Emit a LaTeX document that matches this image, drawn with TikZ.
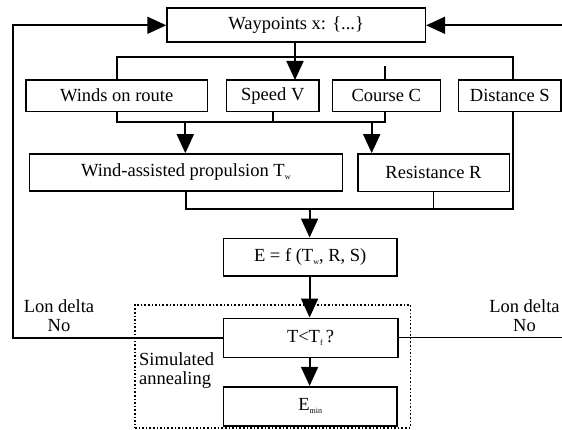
\documentclass[tikz,border=0pt]{standalone}
\usepackage{fontspec}
\setmainfont{Liberation Serif}
\usetikzlibrary{arrows.meta}
\newcommand{\sbx}[1]{\raisebox{-0.35ex}{\fontsize{8}{8}\selectfont #1}}
\begin{document}
\begin{tikzpicture}[x=1pt,y=-1pt,
  box/.style={draw, line width=1.6pt, inner sep=0pt, font=\fontsize{18.5}{22}\selectfont},
  conn/.style={line width=1.8pt},
  arr/.style={line width=1.8pt, -{Triangle[length=19pt,width=17pt]}},
  lbl/.style={font=\fontsize{18.5}{22}\selectfont, inner sep=0pt}]
\useasboundingbox (0,0) rectangle (562,430);
% boxes
\node[box, minimum width=258.3, minimum height=34] (wp) at (296.2,25.3) {Waypoints x: \{...\}};
\node[box, minimum width=181.3, minimum height=31.3] (winds) at (116.7,95.7) {Winds on route};
\node[box, minimum width=92.3, minimum height=31.7] (speed) at (272.8,95.8) {Speed V};
\node[box, minimum width=108, minimum height=31.3] (course) at (386.3,95.7) {Course C};
\node[box, minimum width=102.3, minimum height=31.3] (dist) at (509.8,95.7) {Distance S};
\node[box, minimum width=313, minimum height=37] (wap) at (185.8,172.5) {Wind-assisted propulsion T\sbx{w}};
\node[box, minimum width=151.6, minimum height=37.7] (res) at (433.5,172.8) {Resistance R};
\node[box, minimum width=173.7, minimum height=37.7] (E) at (310.2,257.2) {E = f (T\sbx{w}, R, S)};
\node[box, minimum width=174.4, minimum height=39] (T) at (310.5,337.8) {T<T\sbx{f}\,?};
\node[box, minimum width=173.7, minimum height=39] (Emin) at (310.2,406.2) {E\sbx{min}};
% helper coordinates
\coordinate (L1) at (13.3,337.8);
\coordinate (R1) at (562,337.8);
\coordinate (R2) at (562,25.3);
\coordinate (busA) at (116.7,56.7);
\coordinate (busB) at (513,56.7);
\coordinate (busBd) at (513,80);
\coordinate (busC) at (116.7,121.7);
\coordinate (busD) at (385.3,121.7);
\coordinate (a1) at (185.3,121.7);
\coordinate (a2) at (371.7,121.7);
\coordinate (busE) at (185.8,209.3);
\coordinate (busF) at (512.7,209.3);
\coordinate (busFu) at (512.7,111.3);
\coordinate (a3) at (309.6,209.3);
% feedback loops
\draw[arr] (T.west) -- (L1) |- (wp.west);
\draw[conn, line width=1.3pt] (T.east) -- (R1);
\draw[arr] (R2) -- (wp.east);
% top distribution
\draw[arr] (wp.south -| 295,0) -- (295,80);
\draw[conn] (winds.north) -- (busA) -- (busB) -- (busBd);
\draw[conn] (course.north -| 385.3,0) -- ++(0,-13.3);
% middle collection
\draw[conn] (winds.south) -- (busC) -- (busD) -- (course.south -| busD);
\draw[conn] (speed.south) -- (speed.south |- busC);
\draw[arr] (a1) -- (a1 |- wap.north);
\draw[arr] (a2) -- (a2 |- res.north);
% lower collection
\draw[conn] (wap.south) -- (busE) -- (busF) -- (busFu);
\draw[conn] (res.south) -- (res.south |- busF);
\draw[arr] (a3) -- (a3 |- E.north);
\draw[arr] (E.south -| a3) -- (a3 |- T.north);
\draw[arr] (T.south -| a3) -- (a3 |- Emin.north);
% simulated annealing frame
\node[draw, dotted, line width=1.6pt, inner sep=0pt, minimum width=275.3, minimum height=122.7] (sa) at (272.65,366.35) {};
\node[lbl, anchor=west, align=left] (satext) at (139,370.5) {Simulated\\[-3pt]annealing};
% labels
\node[lbl, align=center] (lonL) at (59,316) {Lon delta\\[-3pt]No};
\node[lbl, align=center] (lonR) at (524.5,316) {Lon delta\\[-3pt]No};
\end{tikzpicture}
\end{document}
